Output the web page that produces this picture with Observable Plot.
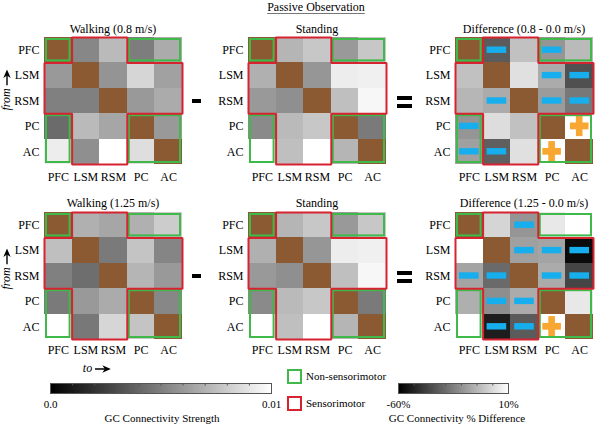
<!DOCTYPE html>
<html><head><meta charset="utf-8">
<script src="https://cdn.jsdelivr.net/npm/d3@7"></script>
<script src="https://cdn.jsdelivr.net/npm/@observablehq/plot@0.6"></script>
<style>
body{margin:0;background:#fff;}
#root{position:relative;width:600px;height:425px;overflow:hidden;font-family:"Liberation Serif","Times New Roman",serif;color:#000;}
.abs{position:absolute;white-space:nowrap;line-height:1;}
.abs svg{vertical-align:middle;margin-left:3px;}
</style></head><body><div id="root"></div>
<script>
// ---------------- data ----------------
const regions = ["PFC","LSM","RSM","PC","AC"];
const nonSensorimotor = ["PFC","PC","AC"];
const sensorimotor = ["LSM","RSM"];
// rows = "from", columns = "to"; null = self connection
const walking08 = [
  [null, 0.0053, 0.0073, 0.0049, 0.0067],
  [0.0060, null, 0.0058, 0.0084, 0.0063],
  [0.0050, 0.0050, null, 0.0060, 0.0067],
  [0.0042, 0.0073, 0.0065, null, 0.0060],
  [0.0093, 0.0056, 0.0100, 0.0087, null]
];
const standing = [
  [null, 0.0071, 0.0078, 0.0060, 0.0078],
  [0.0069, null, 0.0059, 0.0093, 0.0094],
  [0.0060, 0.0056, null, 0.0075, 0.0097],
  [0.0054, 0.0073, 0.0078, null, 0.0048],
  [0.0100, 0.0075, 0.0100, 0.0071, null]
];
const walking125 = [
  [null, 0.0069, 0.0065, 0.0069, 0.0080],
  [0.0075, null, 0.0048, 0.0077, 0.0052],
  [0.0050, 0.0043, null, 0.0071, 0.0060],
  [0.0048, 0.0060, 0.0067, null, 0.0053],
  [0.0100, 0.0047, 0.0084, 0.0077, null]
];
const diff08 = [
  [null, -35, -7, -19, -9],
  [-7, null, 1.5, -13, -38],
  [-10, -13, null, -17.5, -27],
  [-19, 0.7, -7, null, 10],
  [-16, -34, 1.5, 10, null]
];
const diff125 = [
  [null, -1.5, -19, 3.7, 10],
  [10, null, -16, -15, -57],
  [-15, -31, null, -13, -41],
  [-12, -21, -13, null, 3.7],
  [10, -52, -35, 10, null]
];
// significant changes [from, to]
const dec08 = [["PFC","LSM"],["PFC","PC"],["LSM","PC"],["LSM","AC"],["RSM","LSM"],["RSM","PC"],["RSM","AC"],["PC","PFC"],["AC","PFC"],["AC","LSM"]];
const inc08 = [["PC","AC"],["AC","PC"]];
const dec125 = [["PFC","RSM"],["LSM","RSM"],["LSM","PC"],["LSM","AC"],["RSM","PFC"],["RSM","LSM"],["RSM","PC"],["RSM","AC"],["PC","LSM"],["PC","RSM"],["AC","LSM"],["AC","RSM"]];
const inc125 = [["AC","PC"]];
const strengthDomain = [0, 0.01];
const diffDomain = [-60, 10];
const strengthTicks = [0.001,0.002,0.003,0.004,0.005,0.006,0.007,0.008,0.009];
const diffTicks = [-50,-40,-30,-20,-10,0];

// ---------------- styles ----------------
const BROWN = "#8b5a33", GREEN = "#3fb94a", RED = "#d6232f", BLUE = "#17aeee", ORANGE = "#f8a733";
const FONT = '"Liberation Serif","Times New Roman",serif';
const root = document.getElementById("root");
const ML = 40, MR = 5, MT = 5, MB = 24, GW = 138, GH = 127;
const ARROW = '<svg width="16" height="8" viewBox="0 0 16 8"><line x1="0" y1="4" x2="11" y2="4" stroke="#000" stroke-width="1.4"/><path d="M7.5,0.3 L16,4 L7.5,7.7 L10,4 Z" fill="#000"/></svg>';

function colorScale(kind){
  return {type:"linear", domain: kind === "strength" ? strengthDomain : diffDomain,
          range:["#000","#fff"], interpolate:"rgb", clamp:true};
}
function runs(names){
  const idx = names.map(n => regions.indexOf(n)).sort((a,b)=>a-b);
  const out = [];
  for (const i of idx){
    const last = out[out.length-1];
    if (last && last[1] === i) last[1] = i+1; else out.push([i, i+1]);
  }
  return out;
}
const greenBlocks = [];
for (const rx of runs(nonSensorimotor)) for (const ry of runs(nonSensorimotor))
  greenBlocks.push({x1: rx[0], x2: rx[1], y1: ry[0], y2: ry[1]});
const [sa, sb] = runs(sensorimotor)[0];
const N = regions.length;
const cross = [[sa,0],[sb,0],[sb,sa],[N,sa],[N,sb],[sb,sb],[sb,N],[sa,N],[sa,sb],[0,sb],[0,sa],[sa,sa],[sa,0]].map(([x,y])=>({x,y}));

function place(el, left, top){
  el.style.position = "absolute"; el.style.left = left + "px"; el.style.top = top + "px";
  root.appendChild(el);
}
function text(str, cx, cy, size, extra={}){
  const d = document.createElement("div");
  d.className = "abs";
  if (extra.html) d.innerHTML = str; else d.textContent = str;
  d.style.fontSize = size + "px";
  d.style.left = cx + "px"; d.style.top = cy + "px";
  d.style.transform = "translate(-50%,-50%)" + (extra.rotate ? " rotate(-90deg)" : "");
  if (extra.italic) d.style.fontStyle = "italic";
  if (extra.underline){ d.style.textDecoration = "underline"; d.style.textDecorationColor = "#777"; d.style.textUnderlineOffset = "2px"; }
  root.appendChild(d);
}
function rectDiv(x, y, w, h, css){
  const d = document.createElement("div");
  d.style.position = "absolute"; d.style.left = x+"px"; d.style.top = y+"px";
  d.style.width = w+"px"; d.style.height = h+"px";
  Object.assign(d.style, css);
  root.appendChild(d);
}

const cellX = {x1: d => d.j, x2: d => d.j + 1, y1: d => d.i, y2: d => d.i + 1};
function panel(matrix, kind, dec, inc, tickPad){
  const cells = [], self = [];
  matrix.forEach((row, i) => row.forEach((v, j) => { if (v == null) self.push({i, j}); else cells.push({i, j, v}); }));
  const sig = list => (list || []).map(([f, t]) => ({i: regions.indexOf(f), j: regions.indexOf(t)}));
  const decs = sig(dec), incs = sig(inc);
  return Plot.plot({
    width: ML + GW + MR, height: MT + GH + MB,
    marginLeft: ML, marginRight: MR, marginTop: MT, marginBottom: MB,
    x: {domain: [0, N]}, y: {domain: [0, N], reverse: true},
    color: colorScale(kind),
    style: {fontFamily: FONT, fontSize: "12px", overflow: "visible", background: "transparent", color: "#000"},
    marks: [
      Plot.rect(cells, {...cellX, fill: "v", shapeRendering: "crispEdges"}),
      Plot.rect(self, {...cellX, fill: BROWN, shapeRendering: "crispEdges"}),
      Plot.rect(decs, {...cellX, fill: BLUE, insetLeft: 4, insetRight: 4, insetTop: 9.5, insetBottom: 9.5}),
      Plot.rect(incs, {...cellX, fill: ORANGE, insetLeft: 4.5, insetRight: 4.5, insetTop: 9.3, insetBottom: 9.3}),
      Plot.rect(incs, {...cellX, fill: ORANGE, insetLeft: 10.5, insetRight: 10.5, insetTop: 2.5, insetBottom: 2.5}),
      Plot.rect(greenBlocks, {x1: "x1", x2: "x2", y1: "y1", y2: "y2", fill: "none", stroke: GREEN, strokeWidth: 2, inset: 2}),
      Plot.line(cross, {x: "x", y: "y", stroke: RED, strokeWidth: 2, strokeLinejoin: "miter"}),
      Plot.axisX({ticks: regions.map((_, i) => i + 0.5), tickFormat: d => regions[Math.floor(d)], tickSize: 0, tickPadding: tickPad, label: null}),
      Plot.axisY({ticks: regions.map((_, i) => i + 0.5), tickFormat: d => regions[Math.floor(d)], tickSize: 0, tickPadding: 5, label: null})
    ]
  });
}

const rowsTop = [37, 212];
const colsLeft = [44, 248, 455];
const panels = [
  {m: walking08, k: "strength", title: "Walking (0.8 m/s)", c: 0, r: 0},
  {m: standing, k: "strength", title: "Standing", c: 1, r: 0},
  {m: diff08, k: "diff", title: "Difference (0.8 - 0.0 m/s)", c: 2, r: 0, dec: dec08, inc: inc08},
  {m: walking125, k: "strength", title: "Walking (1.25 m/s)", c: 0, r: 1},
  {m: standing, k: "strength", title: "Standing", c: 1, r: 1},
  {m: diff125, k: "diff", title: "Difference (1.25 - 0.0 m/s)", c: 2, r: 1, dec: dec125, inc: inc125}
];
for (const p of panels){
  const x0 = colsLeft[p.c], y0 = rowsTop[p.r];
  const svg = panel(p.m, p.k, p.dec, p.inc, p.r === 0 ? 8 : 6);
  place(svg, x0 - ML, y0 - MT);
  text(p.title, x0 + GW/2, y0 - (p.r === 0 ? 8 : 9), 12);
}

// header
text("Passive Observation", 316, 7, 12, {underline: true});
// operators
for (const y0 of rowsTop){
  const cy = y0 + GH/2;
  rectDiv(192, cy - 1.5, 9, 4, {background: "#000"});
  rectDiv(397, cy - 4.5, 15, 4, {background: "#000"});
  rectDiv(397, cy + 3.5, 15, 4, {background: "#000"});
}
// axis direction labels
text("from" + ARROW, 6, 90, 12, {italic: true, rotate: true, html: true});
text("from" + ARROW, 6, 269, 12, {italic: true, rotate: true, html: true});
text("to" + ARROW, 97, 368, 12, {italic: true, html: true});

// colour bars
function colorbar(kind, domain, minor, fmt, left, right){
  const mL = 20, mR = 20, mT = 2, bh = 10, mB = 20;
  const svg = Plot.plot({
    width: mL + (right - left) + mR, height: mT + bh + mB,
    marginLeft: mL, marginRight: mR, marginTop: mT, marginBottom: mB,
    x: {domain}, y: {domain: [0, 1], axis: null},
    color: colorScale(kind),
    style: {fontFamily: FONT, fontSize: "11px", overflow: "visible", background: "transparent", color: "#000"},
    marks: [
      Plot.raster({fill: (x, y) => x, x1: domain[0], x2: domain[1], y1: 0, y2: 1, width: 256, height: 1, imageRendering: "auto"}),
      Plot.tickX(minor, {x: d => d, stroke: "#555", insetBottom: 7.5}),
      Plot.frame({stroke: "#555"}),
      Plot.axisX({ticks: domain, tickFormat: fmt, tickSize: 0, tickPadding: 7, label: null})
    ]
  });
  place(svg, left - mL, 383 - mT);
}
colorbar("strength", strengthDomain, strengthTicks, d => d === 0 ? "0.0" : String(d), 50, 271);
colorbar("diff", diffDomain, diffTicks, d => `${d}%`, 398, 508);
text("GC Connectivity Strength", 162, 418, 11);
text("GC Connectivity % Difference", 457, 418, 11);

// group legend
rectDiv(287, 369, 11, 11, {border: `2px solid ${GREEN}`});
rectDiv(287, 396, 11, 11, {border: `2px solid ${RED}`});
const l1 = document.createElement("div"); l1.className = "abs"; l1.textContent = "Non-sensorimotor";
Object.assign(l1.style, {left: "306px", top: "371px", fontSize: "11px"}); root.appendChild(l1);
const l2 = document.createElement("div"); l2.className = "abs"; l2.textContent = "Sensorimotor";
Object.assign(l2.style, {left: "306px", top: "398px", fontSize: "11px"}); root.appendChild(l2);
</script></body></html>
